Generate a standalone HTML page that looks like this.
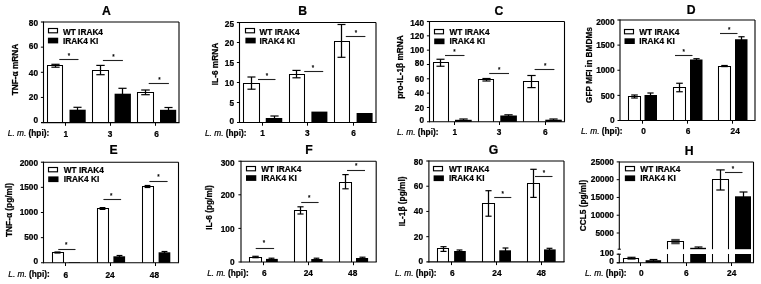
<!DOCTYPE html>
<html><head><meta charset="utf-8"><style>
html,body{margin:0;padding:0;background:#fff;}
svg{display:block;filter:grayscale(1);}
text{font-family:"Liberation Sans",sans-serif;fill:#000;stroke:#000;stroke-width:0.22px;}
</style></head><body>
<svg width="761" height="284" viewBox="0 0 761 284">
<rect width="761" height="284" fill="#fff"/>
<line x1="55.5" y1="64.3" x2="55.5" y2="67.2" stroke="#000" stroke-width="1.25"/>
<line x1="51.38" y1="64.3" x2="59.62" y2="64.3" stroke="#000" stroke-width="1.2"/>
<line x1="51.38" y1="67.2" x2="59.62" y2="67.2" stroke="#000" stroke-width="1.2"/>
<path d="M47.5 122.6 V65.5 H62.5 V122.6" fill="none" stroke="#000" stroke-width="1.05"/>
<line x1="77.5" y1="107.3" x2="77.5" y2="110.7" stroke="#000" stroke-width="1.25"/>
<line x1="73.45" y1="107.3" x2="81.55" y2="107.3" stroke="#000" stroke-width="1.2"/>
<rect x="69.5" y="109.7" width="16.2" height="12.9" fill="#000" stroke="none" stroke-width="1.0"/>
<line x1="100.5" y1="65.4" x2="100.5" y2="74.7" stroke="#000" stroke-width="1.25"/>
<line x1="96.3" y1="65.4" x2="104.7" y2="65.4" stroke="#000" stroke-width="1.2"/>
<line x1="96.3" y1="74.7" x2="104.7" y2="74.7" stroke="#000" stroke-width="1.2"/>
<path d="M92.5 122.6 V70.5 H108.5 V122.6" fill="none" stroke="#000" stroke-width="1.05"/>
<line x1="122.5" y1="88.3" x2="122.5" y2="94.7" stroke="#000" stroke-width="1.25"/>
<line x1="118.42" y1="88.3" x2="126.58" y2="88.3" stroke="#000" stroke-width="1.2"/>
<rect x="114.6" y="93.7" width="16.3" height="28.9" fill="#000" stroke="none" stroke-width="1.0"/>
<line x1="145.5" y1="90" x2="145.5" y2="94.7" stroke="#000" stroke-width="1.25"/>
<line x1="141.22" y1="90" x2="149.78" y2="90" stroke="#000" stroke-width="1.2"/>
<line x1="141.22" y1="94.7" x2="149.78" y2="94.7" stroke="#000" stroke-width="1.2"/>
<path d="M137.5 122.6 V92.5 H153.5 V122.6" fill="none" stroke="#000" stroke-width="1.05"/>
<line x1="168.5" y1="107.5" x2="168.5" y2="110.8" stroke="#000" stroke-width="1.25"/>
<line x1="164.45" y1="107.5" x2="172.55" y2="107.5" stroke="#000" stroke-width="1.2"/>
<rect x="160" y="109.8" width="16.2" height="12.8" fill="#000" stroke="none" stroke-width="1.0"/>
<line x1="43.5" y1="22" x2="179" y2="22" stroke="#000" stroke-width="1.1"/>
<line x1="179" y1="22" x2="179" y2="122.6" stroke="#000" stroke-width="1.1"/>
<line x1="43.5" y1="21.5" x2="43.5" y2="123.1" stroke="#000" stroke-width="1.1"/>
<line x1="41" y1="122.6" x2="179.5" y2="122.6" stroke="#000" stroke-width="1.1"/>
<line x1="40.9" y1="22" x2="43.5" y2="22" stroke="#000" stroke-width="1.1"/>
<text transform="translate(38.1,25.8) scale(1,1.06)" text-anchor="end" font-size="8.3" font-weight="bold" font-style="normal" >80</text>
<line x1="40.9" y1="47.15" x2="43.5" y2="47.15" stroke="#000" stroke-width="1.0"/>
<text transform="translate(38.1,49.1) scale(1,1.06)" text-anchor="end" font-size="8.3" font-weight="bold" font-style="normal" >60</text>
<line x1="40.9" y1="72.3" x2="43.5" y2="72.3" stroke="#000" stroke-width="1.0"/>
<text transform="translate(38.1,75.95) scale(1,1.06)" text-anchor="end" font-size="8.3" font-weight="bold" font-style="normal" >40</text>
<line x1="40.9" y1="97.45" x2="43.5" y2="97.45" stroke="#000" stroke-width="1.0"/>
<text transform="translate(38.1,99.85) scale(1,1.06)" text-anchor="end" font-size="8.3" font-weight="bold" font-style="normal" >20</text>
<text transform="translate(38.1,123.05) scale(1,1.06)" text-anchor="end" font-size="8.3" font-weight="bold" font-style="normal" >0</text>
<line x1="65.5" y1="122.6" x2="65.5" y2="125.8" stroke="#000" stroke-width="1.0"/>
<text transform="translate(65.8,136.5) scale(1,1.06)" text-anchor="middle" font-size="8.3" font-weight="bold" font-style="normal" >1</text>
<line x1="110.5" y1="122.6" x2="110.5" y2="125.8" stroke="#000" stroke-width="1.0"/>
<text transform="translate(110.1,136.5) scale(1,1.06)" text-anchor="middle" font-size="8.3" font-weight="bold" font-style="normal" >3</text>
<line x1="155.5" y1="122.6" x2="155.5" y2="125.8" stroke="#000" stroke-width="1.0"/>
<text transform="translate(156.6,136.5) scale(1,1.06)" text-anchor="middle" font-size="8.3" font-weight="bold" font-style="normal" >6</text>
<text transform="translate(7.8,135.7) scale(1,1.06)" font-size="8.3"><tspan font-style="italic">L. m.</tspan><tspan font-weight="bold"> (hpi):</tspan></text>
<line x1="59.3" y1="59.5" x2="78.5" y2="59.5" stroke="#222" stroke-width="1.1"/>
<text transform="translate(69,57.8) scale(1,1.06)" text-anchor="middle" font-size="6.2" font-weight="bold" font-style="normal" style="stroke-width:0.1px">*</text>
<line x1="102.9" y1="60.5" x2="122.9" y2="60.5" stroke="#222" stroke-width="1.1"/>
<text transform="translate(113.4,58.8) scale(1,1.06)" text-anchor="middle" font-size="6.2" font-weight="bold" font-style="normal" style="stroke-width:0.1px">*</text>
<line x1="148.7" y1="83.5" x2="168.9" y2="83.5" stroke="#222" stroke-width="1.1"/>
<text transform="translate(159.5,81.7) scale(1,1.06)" text-anchor="middle" font-size="6.2" font-weight="bold" font-style="normal" style="stroke-width:0.1px">*</text>
<rect x="48.5" y="28.5" width="9" height="4.3" fill="#fff" stroke="#000" stroke-width="1.15"/>
<rect x="47.9" y="37.7" width="10.3" height="5.7" fill="#000" stroke="none" stroke-width="1.0"/>
<text transform="translate(62.9,34.55) scale(1,1.06)" text-anchor="start" font-size="8.3" font-weight="bold" font-style="normal" >WT IRAK4</text>
<text transform="translate(62.9,43.65) scale(1,1.06)" text-anchor="start" font-size="8.3" font-weight="bold" font-style="normal" >IRAK4 KI</text>
<text transform="translate(106.5,14.8) scale(1,1.06)" text-anchor="middle" font-size="12.2" font-weight="bold" font-style="normal" >A</text>
<text transform="translate(18.3,69.5) rotate(-90) scale(1,1.06)" text-anchor="middle" font-size="8.3" font-weight="bold">TNF-&#945; mRNA</text>
<line x1="251.5" y1="77" x2="251.5" y2="89.2" stroke="#000" stroke-width="1.25"/>
<line x1="247.45" y1="77" x2="255.55" y2="77" stroke="#000" stroke-width="1.2"/>
<line x1="247.45" y1="89.2" x2="255.55" y2="89.2" stroke="#000" stroke-width="1.2"/>
<path d="M243.5 122.5 V83.5 H259.5 V122.5" fill="none" stroke="#000" stroke-width="1.05"/>
<line x1="274.5" y1="116" x2="274.5" y2="119" stroke="#000" stroke-width="1.25"/>
<line x1="270.38" y1="116" x2="278.62" y2="116" stroke="#000" stroke-width="1.2"/>
<rect x="265.75" y="118" width="16.5" height="4.5" fill="#000" stroke="none" stroke-width="1.0"/>
<line x1="296.5" y1="70.4" x2="296.5" y2="77.8" stroke="#000" stroke-width="1.25"/>
<line x1="292.43" y1="70.4" x2="300.57" y2="70.4" stroke="#000" stroke-width="1.2"/>
<line x1="292.43" y1="77.8" x2="300.57" y2="77.8" stroke="#000" stroke-width="1.2"/>
<path d="M289.5 122.5 V74.5 H304.5 V122.5" fill="none" stroke="#000" stroke-width="1.05"/>
<rect x="311.4" y="111.6" width="16" height="10.9" fill="#000" stroke="none" stroke-width="1.0"/>
<line x1="341.5" y1="24.5" x2="341.5" y2="57.3" stroke="#000" stroke-width="1.25"/>
<line x1="337.52" y1="24.5" x2="345.48" y2="24.5" stroke="#000" stroke-width="1.2"/>
<line x1="337.52" y1="57.3" x2="345.48" y2="57.3" stroke="#000" stroke-width="1.2"/>
<path d="M334.5 122.5 V41.5 H349.5 V122.5" fill="none" stroke="#000" stroke-width="1.05"/>
<rect x="356.6" y="113" width="16" height="9.5" fill="#000" stroke="none" stroke-width="1.0"/>
<line x1="239.5" y1="22.5" x2="376" y2="22.5" stroke="#000" stroke-width="1.1"/>
<line x1="376" y1="22.5" x2="376" y2="122.5" stroke="#000" stroke-width="1.1"/>
<line x1="239.5" y1="22" x2="239.5" y2="123" stroke="#000" stroke-width="1.1"/>
<line x1="237" y1="122.5" x2="376.5" y2="122.5" stroke="#000" stroke-width="1.1"/>
<line x1="236.9" y1="22.5" x2="239.5" y2="22.5" stroke="#000" stroke-width="1.1"/>
<text transform="translate(234.1,27.45) scale(1,1.06)" text-anchor="end" font-size="8.3" font-weight="bold" font-style="normal" >25</text>
<line x1="236.9" y1="42.5" x2="239.5" y2="42.5" stroke="#000" stroke-width="1.0"/>
<text transform="translate(234.1,46.05) scale(1,1.06)" text-anchor="end" font-size="8.3" font-weight="bold" font-style="normal" >20</text>
<line x1="236.9" y1="62.5" x2="239.5" y2="62.5" stroke="#000" stroke-width="1.0"/>
<text transform="translate(234.1,66.05) scale(1,1.06)" text-anchor="end" font-size="8.3" font-weight="bold" font-style="normal" >15</text>
<line x1="236.9" y1="82.5" x2="239.5" y2="82.5" stroke="#000" stroke-width="1.0"/>
<text transform="translate(234.1,85.9) scale(1,1.06)" text-anchor="end" font-size="8.3" font-weight="bold" font-style="normal" >10</text>
<line x1="236.9" y1="102.5" x2="239.5" y2="102.5" stroke="#000" stroke-width="1.0"/>
<text transform="translate(234.1,105.55) scale(1,1.06)" text-anchor="end" font-size="8.3" font-weight="bold" font-style="normal" >5</text>
<text transform="translate(234.1,123.95) scale(1,1.06)" text-anchor="end" font-size="8.3" font-weight="bold" font-style="normal" >0</text>
<line x1="262.5" y1="122.5" x2="262.5" y2="125.7" stroke="#000" stroke-width="1.0"/>
<text transform="translate(262.6,135.5) scale(1,1.06)" text-anchor="middle" font-size="8.3" font-weight="bold" font-style="normal" >1</text>
<line x1="307.5" y1="122.5" x2="307.5" y2="125.7" stroke="#000" stroke-width="1.0"/>
<text transform="translate(307.2,135.5) scale(1,1.06)" text-anchor="middle" font-size="8.3" font-weight="bold" font-style="normal" >3</text>
<line x1="353.5" y1="122.5" x2="353.5" y2="125.7" stroke="#000" stroke-width="1.0"/>
<text transform="translate(353.6,135.5) scale(1,1.06)" text-anchor="middle" font-size="8.3" font-weight="bold" font-style="normal" >6</text>
<text transform="translate(205,135.6) scale(1,1.06)" font-size="8.3"><tspan font-style="italic">L. m.</tspan><tspan font-weight="bold"> (hpi):</tspan></text>
<line x1="258" y1="79.5" x2="275.5" y2="79.5" stroke="#222" stroke-width="1.1"/>
<text transform="translate(267,78) scale(1,1.06)" text-anchor="middle" font-size="6.2" font-weight="bold" font-style="normal" style="stroke-width:0.1px">*</text>
<line x1="304.2" y1="71.5" x2="323.2" y2="71.5" stroke="#222" stroke-width="1.1"/>
<text transform="translate(312.9,70.4) scale(1,1.06)" text-anchor="middle" font-size="6.2" font-weight="bold" font-style="normal" style="stroke-width:0.1px">*</text>
<line x1="345.8" y1="36.5" x2="365.4" y2="36.5" stroke="#222" stroke-width="1.1"/>
<text transform="translate(356,34.5) scale(1,1.06)" text-anchor="middle" font-size="6.2" font-weight="bold" font-style="normal" style="stroke-width:0.1px">*</text>
<rect x="245.5" y="28.5" width="9" height="4.3" fill="#fff" stroke="#000" stroke-width="1.15"/>
<rect x="245.4" y="37.7" width="10.3" height="5.7" fill="#000" stroke="none" stroke-width="1.0"/>
<text transform="translate(259.5,34.55) scale(1,1.06)" text-anchor="start" font-size="8.3" font-weight="bold" font-style="normal" >WT IRAK4</text>
<text transform="translate(259.5,43.65) scale(1,1.06)" text-anchor="start" font-size="8.3" font-weight="bold" font-style="normal" >IRAK4 KI</text>
<text transform="translate(302.7,14.8) scale(1,1.06)" text-anchor="middle" font-size="12.2" font-weight="bold" font-style="normal" >B</text>
<text transform="translate(218.2,64) rotate(-90) scale(1,1.06)" text-anchor="middle" font-size="8.3" font-weight="bold">IL-6 mRNA</text>
<line x1="440.5" y1="59.25" x2="440.5" y2="66.25" stroke="#000" stroke-width="1.25"/>
<line x1="436.48" y1="59.25" x2="444.52" y2="59.25" stroke="#000" stroke-width="1.2"/>
<line x1="436.48" y1="66.25" x2="444.52" y2="66.25" stroke="#000" stroke-width="1.2"/>
<path d="M433.5 121.8 V62.5 H448.5 V121.8" fill="none" stroke="#000" stroke-width="1.05"/>
<line x1="463.5" y1="119" x2="463.5" y2="120.8" stroke="#000" stroke-width="1.25"/>
<line x1="459.32" y1="119" x2="467.68" y2="119" stroke="#000" stroke-width="1.2"/>
<rect x="455" y="119.8" width="16.7" height="2" fill="#000" stroke="none" stroke-width="1.0"/>
<line x1="486.5" y1="78.5" x2="486.5" y2="81" stroke="#000" stroke-width="1.25"/>
<line x1="482.4" y1="78.5" x2="490.6" y2="78.5" stroke="#000" stroke-width="1.2"/>
<line x1="482.4" y1="81" x2="490.6" y2="81" stroke="#000" stroke-width="1.2"/>
<path d="M478.5 121.8 V79.5 H493.5 V121.8" fill="none" stroke="#000" stroke-width="1.05"/>
<line x1="508.5" y1="114.8" x2="508.5" y2="116.5" stroke="#000" stroke-width="1.25"/>
<line x1="504.35" y1="114.8" x2="512.65" y2="114.8" stroke="#000" stroke-width="1.2"/>
<rect x="500.3" y="115.5" width="16.6" height="6.3" fill="#000" stroke="none" stroke-width="1.0"/>
<line x1="531.5" y1="75.5" x2="531.5" y2="87.6" stroke="#000" stroke-width="1.25"/>
<line x1="527.33" y1="75.5" x2="535.67" y2="75.5" stroke="#000" stroke-width="1.2"/>
<line x1="527.33" y1="87.6" x2="535.67" y2="87.6" stroke="#000" stroke-width="1.2"/>
<path d="M523.5 121.8 V81.5 H538.5 V121.8" fill="none" stroke="#000" stroke-width="1.05"/>
<line x1="553.5" y1="119" x2="553.5" y2="120.7" stroke="#000" stroke-width="1.25"/>
<line x1="549.38" y1="119" x2="557.62" y2="119" stroke="#000" stroke-width="1.2"/>
<rect x="545.3" y="119.7" width="16.5" height="2.1" fill="#000" stroke="none" stroke-width="1.0"/>
<line x1="429.5" y1="21.5" x2="564.5" y2="21.5" stroke="#000" stroke-width="1.1"/>
<line x1="564.5" y1="21.5" x2="564.5" y2="121.8" stroke="#000" stroke-width="1.1"/>
<line x1="429.5" y1="21" x2="429.5" y2="122.3" stroke="#000" stroke-width="1.1"/>
<line x1="427" y1="121.8" x2="565" y2="121.8" stroke="#000" stroke-width="1.1"/>
<line x1="426.9" y1="21.5" x2="429.5" y2="21.5" stroke="#000" stroke-width="1.1"/>
<text transform="translate(424.1,25.75) scale(1,1.06)" text-anchor="end" font-size="8.3" font-weight="bold" font-style="normal" >140</text>
<line x1="426.9" y1="35.83" x2="429.5" y2="35.83" stroke="#000" stroke-width="1.0"/>
<text transform="translate(424.1,39) scale(1,1.06)" text-anchor="end" font-size="8.3" font-weight="bold" font-style="normal" >120</text>
<line x1="426.9" y1="50.16" x2="429.5" y2="50.16" stroke="#000" stroke-width="1.0"/>
<text transform="translate(424.1,53.3) scale(1,1.06)" text-anchor="end" font-size="8.3" font-weight="bold" font-style="normal" >100</text>
<line x1="426.9" y1="64.49" x2="429.5" y2="64.49" stroke="#000" stroke-width="1.0"/>
<text transform="translate(424.1,66.35) scale(1,1.06)" text-anchor="end" font-size="8.3" font-weight="bold" font-style="normal" >80</text>
<line x1="426.9" y1="78.81" x2="429.5" y2="78.81" stroke="#000" stroke-width="1.0"/>
<text transform="translate(424.1,81.8) scale(1,1.06)" text-anchor="end" font-size="8.3" font-weight="bold" font-style="normal" >60</text>
<line x1="426.9" y1="93.14" x2="429.5" y2="93.14" stroke="#000" stroke-width="1.0"/>
<text transform="translate(424.1,96.25) scale(1,1.06)" text-anchor="end" font-size="8.3" font-weight="bold" font-style="normal" >40</text>
<line x1="426.9" y1="107.47" x2="429.5" y2="107.47" stroke="#000" stroke-width="1.0"/>
<text transform="translate(424.1,111.05) scale(1,1.06)" text-anchor="end" font-size="8.3" font-weight="bold" font-style="normal" >20</text>
<text transform="translate(424.1,123.15) scale(1,1.06)" text-anchor="end" font-size="8.3" font-weight="bold" font-style="normal" >0</text>
<line x1="454.5" y1="121.8" x2="454.5" y2="125" stroke="#000" stroke-width="1.0"/>
<text transform="translate(454.8,135.4) scale(1,1.06)" text-anchor="middle" font-size="8.3" font-weight="bold" font-style="normal" >1</text>
<line x1="499.5" y1="121.8" x2="499.5" y2="125" stroke="#000" stroke-width="1.0"/>
<text transform="translate(499.1,135.4) scale(1,1.06)" text-anchor="middle" font-size="8.3" font-weight="bold" font-style="normal" >3</text>
<line x1="545.5" y1="121.8" x2="545.5" y2="125" stroke="#000" stroke-width="1.0"/>
<text transform="translate(545.3,135.4) scale(1,1.06)" text-anchor="middle" font-size="8.3" font-weight="bold" font-style="normal" >6</text>
<text transform="translate(397,135.1) scale(1,1.06)" font-size="8.3"><tspan font-style="italic">L. m.</tspan><tspan font-weight="bold"> (hpi):</tspan></text>
<line x1="445" y1="55.5" x2="464.5" y2="55.5" stroke="#222" stroke-width="1.1"/>
<text transform="translate(454.5,54.25) scale(1,1.06)" text-anchor="middle" font-size="6.2" font-weight="bold" font-style="normal" style="stroke-width:0.1px">*</text>
<line x1="489.2" y1="73.5" x2="509" y2="73.5" stroke="#222" stroke-width="1.1"/>
<text transform="translate(499.1,71.6) scale(1,1.06)" text-anchor="middle" font-size="6.2" font-weight="bold" font-style="normal" style="stroke-width:0.1px">*</text>
<line x1="534.6" y1="69.5" x2="554.4" y2="69.5" stroke="#222" stroke-width="1.1"/>
<text transform="translate(545.3,67.9) scale(1,1.06)" text-anchor="middle" font-size="6.2" font-weight="bold" font-style="normal" style="stroke-width:0.1px">*</text>
<rect x="434.5" y="29.5" width="9" height="4.3" fill="#fff" stroke="#000" stroke-width="1.15"/>
<rect x="434.2" y="38.5" width="10.3" height="5.7" fill="#000" stroke="none" stroke-width="1.0"/>
<text transform="translate(449.5,35.35) scale(1,1.06)" text-anchor="start" font-size="8.3" font-weight="bold" font-style="normal" >WT IRAK4</text>
<text transform="translate(449.5,44.45) scale(1,1.06)" text-anchor="start" font-size="8.3" font-weight="bold" font-style="normal" >IRAK4 KI</text>
<text transform="translate(499,14.8) scale(1,1.06)" text-anchor="middle" font-size="12.2" font-weight="bold" font-style="normal" >C</text>
<text transform="translate(403,67) rotate(-90) scale(1,1.06)" text-anchor="middle" font-size="8.3" font-weight="bold">pro-IL-1&#946; mRNA</text>
<line x1="634.5" y1="95" x2="634.5" y2="98" stroke="#000" stroke-width="1.25"/>
<line x1="631.2" y1="95" x2="637.8" y2="95" stroke="#000" stroke-width="1.2"/>
<line x1="631.2" y1="98" x2="637.8" y2="98" stroke="#000" stroke-width="1.2"/>
<path d="M628.5 120.5 V96.5 H640.5 V120.5" fill="none" stroke="#000" stroke-width="1.05"/>
<line x1="650.5" y1="93" x2="650.5" y2="96" stroke="#000" stroke-width="1.25"/>
<line x1="647.38" y1="93" x2="653.62" y2="93" stroke="#000" stroke-width="1.2"/>
<rect x="644.5" y="95" width="12.5" height="25.5" fill="#000" stroke="none" stroke-width="1.0"/>
<line x1="679.5" y1="83.25" x2="679.5" y2="91.75" stroke="#000" stroke-width="1.25"/>
<line x1="676.2" y1="83.25" x2="682.8" y2="83.25" stroke="#000" stroke-width="1.2"/>
<line x1="676.2" y1="91.75" x2="682.8" y2="91.75" stroke="#000" stroke-width="1.2"/>
<path d="M673.5 120.5 V87.5 H685.5 V120.5" fill="none" stroke="#000" stroke-width="1.05"/>
<line x1="696.5" y1="58.7" x2="696.5" y2="60.5" stroke="#000" stroke-width="1.25"/>
<line x1="693.38" y1="58.7" x2="699.62" y2="58.7" stroke="#000" stroke-width="1.2"/>
<rect x="690" y="59.5" width="12.5" height="61" fill="#000" stroke="none" stroke-width="1.0"/>
<line x1="724.5" y1="65.5" x2="724.5" y2="66.6" stroke="#000" stroke-width="1.25"/>
<line x1="721.25" y1="65.5" x2="727.75" y2="65.5" stroke="#000" stroke-width="1.2"/>
<line x1="721.25" y1="66.6" x2="727.75" y2="66.6" stroke="#000" stroke-width="1.2"/>
<path d="M718.5 120.5 V66.5 H730.5 V120.5" fill="none" stroke="#000" stroke-width="1.05"/>
<line x1="741.5" y1="36.75" x2="741.5" y2="40.25" stroke="#000" stroke-width="1.25"/>
<line x1="738.38" y1="36.75" x2="744.62" y2="36.75" stroke="#000" stroke-width="1.2"/>
<rect x="735" y="39.25" width="12.5" height="81.25" fill="#000" stroke="none" stroke-width="1.0"/>
<line x1="620" y1="20" x2="755" y2="20" stroke="#000" stroke-width="1.1"/>
<line x1="755" y1="20" x2="755" y2="120.5" stroke="#000" stroke-width="1.1"/>
<line x1="620" y1="19.5" x2="620" y2="121" stroke="#000" stroke-width="1.1"/>
<line x1="617.5" y1="120.5" x2="755.5" y2="120.5" stroke="#000" stroke-width="1.1"/>
<line x1="617.4" y1="20" x2="620" y2="20" stroke="#000" stroke-width="1.1"/>
<text transform="translate(614.6,25.05) scale(1,1.06)" text-anchor="end" font-size="8.3" font-weight="bold" font-style="normal" >2000</text>
<line x1="617.4" y1="45.12" x2="620" y2="45.12" stroke="#000" stroke-width="1.0"/>
<text transform="translate(614.6,47.75) scale(1,1.06)" text-anchor="end" font-size="8.3" font-weight="bold" font-style="normal" >1500</text>
<line x1="617.4" y1="70.25" x2="620" y2="70.25" stroke="#000" stroke-width="1.0"/>
<text transform="translate(614.6,73.2) scale(1,1.06)" text-anchor="end" font-size="8.3" font-weight="bold" font-style="normal" >1000</text>
<line x1="617.4" y1="95.38" x2="620" y2="95.38" stroke="#000" stroke-width="1.0"/>
<text transform="translate(614.6,98.75) scale(1,1.06)" text-anchor="end" font-size="8.3" font-weight="bold" font-style="normal" >500</text>
<text transform="translate(614.6,123.05) scale(1,1.06)" text-anchor="end" font-size="8.3" font-weight="bold" font-style="normal" >0</text>
<line x1="642.5" y1="120.5" x2="642.5" y2="123.7" stroke="#000" stroke-width="1.0"/>
<text transform="translate(643.5,134.3) scale(1,1.06)" text-anchor="middle" font-size="8.3" font-weight="bold" font-style="normal" >0</text>
<line x1="687.5" y1="120.5" x2="687.5" y2="123.7" stroke="#000" stroke-width="1.0"/>
<text transform="translate(688,134.3) scale(1,1.06)" text-anchor="middle" font-size="8.3" font-weight="bold" font-style="normal" >6</text>
<line x1="732.5" y1="120.5" x2="732.5" y2="123.7" stroke="#000" stroke-width="1.0"/>
<text transform="translate(735.2,134.3) scale(1,1.06)" text-anchor="middle" font-size="8.3" font-weight="bold" font-style="normal" >24</text>
<text transform="translate(581,133.8) scale(1,1.06)" font-size="8.3"><tspan font-style="italic">L. m.</tspan><tspan font-weight="bold"> (hpi):</tspan></text>
<line x1="675" y1="55.5" x2="692.5" y2="55.5" stroke="#222" stroke-width="1.1"/>
<text transform="translate(683.7,54.3) scale(1,1.06)" text-anchor="middle" font-size="6.2" font-weight="bold" font-style="normal" style="stroke-width:0.1px">*</text>
<line x1="720" y1="33.5" x2="737.5" y2="33.5" stroke="#222" stroke-width="1.1"/>
<text transform="translate(729.25,32.25) scale(1,1.06)" text-anchor="middle" font-size="6.2" font-weight="bold" font-style="normal" style="stroke-width:0.1px">*</text>
<rect x="624.5" y="29.5" width="9" height="4.3" fill="#fff" stroke="#000" stroke-width="1.15"/>
<rect x="624.5" y="38.3" width="10.3" height="5.7" fill="#000" stroke="none" stroke-width="1.0"/>
<text transform="translate(639.25,35.15) scale(1,1.06)" text-anchor="start" font-size="8.3" font-weight="bold" font-style="normal" >WT IRAK4</text>
<text transform="translate(639.25,44.25) scale(1,1.06)" text-anchor="start" font-size="8.3" font-weight="bold" font-style="normal" >IRAK4 KI</text>
<text transform="translate(691.2,14.2) scale(1,1.06)" text-anchor="middle" font-size="12.2" font-weight="bold" font-style="normal" >D</text>
<text transform="translate(591.5,65) rotate(-90) scale(1,1.06)" text-anchor="middle" font-size="8.3" font-weight="bold">GFP MFI in BMDMs</text>
<line x1="57.5" y1="252" x2="57.5" y2="253" stroke="#000" stroke-width="1.25"/>
<line x1="54.42" y1="252" x2="60.58" y2="252" stroke="#000" stroke-width="1.2"/>
<line x1="54.42" y1="253" x2="60.58" y2="253" stroke="#000" stroke-width="1.2"/>
<path d="M52.5 262.8 V252.5 H63.5 V262.8" fill="none" stroke="#000" stroke-width="1.05"/>
<rect x="68.75" y="262.2" width="11.25" height="0.6" fill="#000" stroke="none" stroke-width="1.0"/>
<line x1="102.5" y1="207.6" x2="102.5" y2="209.4" stroke="#000" stroke-width="1.25"/>
<line x1="99.6" y1="207.6" x2="105.4" y2="207.6" stroke="#000" stroke-width="1.2"/>
<line x1="99.6" y1="209.4" x2="105.4" y2="209.4" stroke="#000" stroke-width="1.2"/>
<path d="M97.5 262.8 V208.5 H108.5 V262.8" fill="none" stroke="#000" stroke-width="1.05"/>
<line x1="119.5" y1="255.5" x2="119.5" y2="257.3" stroke="#000" stroke-width="1.25"/>
<line x1="116.58" y1="255.5" x2="122.42" y2="255.5" stroke="#000" stroke-width="1.2"/>
<rect x="113.4" y="256.3" width="11.7" height="6.5" fill="#000" stroke="none" stroke-width="1.0"/>
<line x1="147.5" y1="185.5" x2="147.5" y2="187.5" stroke="#000" stroke-width="1.25"/>
<line x1="144.62" y1="185.5" x2="150.38" y2="185.5" stroke="#000" stroke-width="1.2"/>
<line x1="144.62" y1="187.5" x2="150.38" y2="187.5" stroke="#000" stroke-width="1.2"/>
<path d="M142.5 262.8 V186.5 H153.5 V262.8" fill="none" stroke="#000" stroke-width="1.05"/>
<line x1="164.5" y1="251.5" x2="164.5" y2="253.3" stroke="#000" stroke-width="1.25"/>
<line x1="161.57" y1="251.5" x2="167.43" y2="251.5" stroke="#000" stroke-width="1.2"/>
<rect x="158.6" y="252.3" width="11.7" height="10.5" fill="#000" stroke="none" stroke-width="1.0"/>
<line x1="43.5" y1="162.2" x2="178.5" y2="162.2" stroke="#000" stroke-width="1.1"/>
<line x1="178.5" y1="162.2" x2="178.5" y2="262.8" stroke="#000" stroke-width="1.1"/>
<line x1="43.5" y1="161.7" x2="43.5" y2="263.3" stroke="#000" stroke-width="1.1"/>
<line x1="41" y1="262.8" x2="179" y2="262.8" stroke="#000" stroke-width="1.1"/>
<line x1="40.9" y1="162.2" x2="43.5" y2="162.2" stroke="#000" stroke-width="1.1"/>
<text transform="translate(38.1,166.45) scale(1,1.06)" text-anchor="end" font-size="8.3" font-weight="bold" font-style="normal" >2000</text>
<line x1="40.9" y1="187.35" x2="43.5" y2="187.35" stroke="#000" stroke-width="1.0"/>
<text transform="translate(38.1,189.95) scale(1,1.06)" text-anchor="end" font-size="8.3" font-weight="bold" font-style="normal" >1500</text>
<line x1="40.9" y1="212.5" x2="43.5" y2="212.5" stroke="#000" stroke-width="1.0"/>
<text transform="translate(38.1,215.15) scale(1,1.06)" text-anchor="end" font-size="8.3" font-weight="bold" font-style="normal" >1000</text>
<line x1="40.9" y1="237.65" x2="43.5" y2="237.65" stroke="#000" stroke-width="1.0"/>
<text transform="translate(38.1,240.15) scale(1,1.06)" text-anchor="end" font-size="8.3" font-weight="bold" font-style="normal" >500</text>
<text transform="translate(38.1,264.15) scale(1,1.06)" text-anchor="end" font-size="8.3" font-weight="bold" font-style="normal" >0</text>
<line x1="65.5" y1="262.8" x2="65.5" y2="266" stroke="#000" stroke-width="1.0"/>
<text transform="translate(65.9,277.6) scale(1,1.06)" text-anchor="middle" font-size="8.3" font-weight="bold" font-style="normal" >6</text>
<line x1="110.5" y1="262.8" x2="110.5" y2="266" stroke="#000" stroke-width="1.0"/>
<text transform="translate(110,277.6) scale(1,1.06)" text-anchor="middle" font-size="8.3" font-weight="bold" font-style="normal" >24</text>
<line x1="155.5" y1="262.8" x2="155.5" y2="266" stroke="#000" stroke-width="1.0"/>
<text transform="translate(154.4,277.6) scale(1,1.06)" text-anchor="middle" font-size="8.3" font-weight="bold" font-style="normal" >48</text>
<text transform="translate(8.3,277.3) scale(1,1.06)" font-size="8.3"><tspan font-style="italic">L. m.</tspan><tspan font-weight="bold"> (hpi):</tspan></text>
<line x1="58.25" y1="249.5" x2="75.5" y2="249.5" stroke="#222" stroke-width="1.1"/>
<text transform="translate(66.25,246.75) scale(1,1.06)" text-anchor="middle" font-size="6.2" font-weight="bold" font-style="normal" style="stroke-width:0.1px">*</text>
<line x1="103.4" y1="199.5" x2="121.1" y2="199.5" stroke="#222" stroke-width="1.1"/>
<text transform="translate(111.2,198.2) scale(1,1.06)" text-anchor="middle" font-size="6.2" font-weight="bold" font-style="normal" style="stroke-width:0.1px">*</text>
<line x1="149.4" y1="181.5" x2="167.6" y2="181.5" stroke="#222" stroke-width="1.1"/>
<text transform="translate(158.5,179.4) scale(1,1.06)" text-anchor="middle" font-size="6.2" font-weight="bold" font-style="normal" style="stroke-width:0.1px">*</text>
<rect x="48.5" y="167.5" width="9" height="4.3" fill="#fff" stroke="#000" stroke-width="1.15"/>
<rect x="48.2" y="176.4" width="10.3" height="5.7" fill="#000" stroke="none" stroke-width="1.0"/>
<text transform="translate(63.75,173.45) scale(1,1.06)" text-anchor="start" font-size="8.3" font-weight="bold" font-style="normal" >WT IRAK4</text>
<text transform="translate(63.75,182.35) scale(1,1.06)" text-anchor="start" font-size="8.3" font-weight="bold" font-style="normal" >IRAK4 KI</text>
<text transform="translate(113.5,153.7) scale(1,1.06)" text-anchor="middle" font-size="12.2" font-weight="bold" font-style="normal" >E</text>
<text transform="translate(12,210) rotate(-90) scale(1,1.06)" text-anchor="middle" font-size="8.3" font-weight="bold">TNF-&#945; (pg/ml)</text>
<line x1="255.5" y1="256.3" x2="255.5" y2="257.7" stroke="#000" stroke-width="1.25"/>
<line x1="252.28" y1="256.3" x2="258.73" y2="256.3" stroke="#000" stroke-width="1.2"/>
<line x1="252.28" y1="257.7" x2="258.73" y2="257.7" stroke="#000" stroke-width="1.2"/>
<path d="M249.5 262 V257.5 H261.5 V262" fill="none" stroke="#000" stroke-width="1.05"/>
<line x1="271.5" y1="258.2" x2="271.5" y2="259.9" stroke="#000" stroke-width="1.25"/>
<line x1="268.55" y1="258.2" x2="274.45" y2="258.2" stroke="#000" stroke-width="1.2"/>
<rect x="266" y="258.9" width="11.8" height="3.1" fill="#000" stroke="none" stroke-width="1.0"/>
<line x1="300.5" y1="206.8" x2="300.5" y2="214" stroke="#000" stroke-width="1.25"/>
<line x1="297.43" y1="206.8" x2="303.57" y2="206.8" stroke="#000" stroke-width="1.2"/>
<line x1="297.43" y1="214" x2="303.57" y2="214" stroke="#000" stroke-width="1.2"/>
<path d="M294.5 262 V210.5 H306.5 V262" fill="none" stroke="#000" stroke-width="1.05"/>
<line x1="316.5" y1="258.2" x2="316.5" y2="260" stroke="#000" stroke-width="1.25"/>
<line x1="313.66" y1="258.2" x2="319.34" y2="258.2" stroke="#000" stroke-width="1.2"/>
<rect x="311.25" y="259" width="11.35" height="3" fill="#000" stroke="none" stroke-width="1.0"/>
<line x1="345.5" y1="174.6" x2="345.5" y2="188.8" stroke="#000" stroke-width="1.25"/>
<line x1="342.32" y1="174.6" x2="348.68" y2="174.6" stroke="#000" stroke-width="1.2"/>
<line x1="342.32" y1="188.8" x2="348.68" y2="188.8" stroke="#000" stroke-width="1.2"/>
<path d="M339.5 262 V182.5 H351.5 V262" fill="none" stroke="#000" stroke-width="1.05"/>
<line x1="362.5" y1="257.2" x2="362.5" y2="259" stroke="#000" stroke-width="1.25"/>
<line x1="359.48" y1="257.2" x2="365.52" y2="257.2" stroke="#000" stroke-width="1.2"/>
<rect x="356" y="258" width="12.1" height="4" fill="#000" stroke="none" stroke-width="1.0"/>
<line x1="241" y1="161.2" x2="376.2" y2="161.2" stroke="#000" stroke-width="1.1"/>
<line x1="376.2" y1="161.2" x2="376.2" y2="262" stroke="#000" stroke-width="1.1"/>
<line x1="241" y1="160.7" x2="241" y2="262.5" stroke="#000" stroke-width="1.1"/>
<line x1="238.5" y1="262" x2="376.7" y2="262" stroke="#000" stroke-width="1.1"/>
<line x1="238.4" y1="161.2" x2="241" y2="161.2" stroke="#000" stroke-width="1.1"/>
<text transform="translate(234.6,165.75) scale(1,1.06)" text-anchor="end" font-size="8.3" font-weight="bold" font-style="normal" >300</text>
<line x1="238.4" y1="194.8" x2="241" y2="194.8" stroke="#000" stroke-width="1.0"/>
<text transform="translate(234.6,197.75) scale(1,1.06)" text-anchor="end" font-size="8.3" font-weight="bold" font-style="normal" >200</text>
<line x1="238.4" y1="228.4" x2="241" y2="228.4" stroke="#000" stroke-width="1.0"/>
<text transform="translate(234.6,232) scale(1,1.06)" text-anchor="end" font-size="8.3" font-weight="bold" font-style="normal" >100</text>
<text transform="translate(234.6,264.75) scale(1,1.06)" text-anchor="end" font-size="8.3" font-weight="bold" font-style="normal" >0</text>
<line x1="263.5" y1="262" x2="263.5" y2="265.2" stroke="#000" stroke-width="1.0"/>
<text transform="translate(264.2,276.3) scale(1,1.06)" text-anchor="middle" font-size="8.3" font-weight="bold" font-style="normal" >6</text>
<line x1="308.5" y1="262" x2="308.5" y2="265.2" stroke="#000" stroke-width="1.0"/>
<text transform="translate(308.3,276.3) scale(1,1.06)" text-anchor="middle" font-size="8.3" font-weight="bold" font-style="normal" >24</text>
<line x1="353.5" y1="262" x2="353.5" y2="265.2" stroke="#000" stroke-width="1.0"/>
<text transform="translate(352.7,276.3) scale(1,1.06)" text-anchor="middle" font-size="8.3" font-weight="bold" font-style="normal" >48</text>
<text transform="translate(207.2,276.4) scale(1,1.06)" font-size="8.3"><tspan font-style="italic">L. m.</tspan><tspan font-weight="bold"> (hpi):</tspan></text>
<line x1="255.7" y1="248.5" x2="274.1" y2="248.5" stroke="#222" stroke-width="1.1"/>
<text transform="translate(264,245.2) scale(1,1.06)" text-anchor="middle" font-size="6.2" font-weight="bold" font-style="normal" style="stroke-width:0.1px">*</text>
<line x1="301.2" y1="202.5" x2="318.6" y2="202.5" stroke="#222" stroke-width="1.1"/>
<text transform="translate(309.25,199.7) scale(1,1.06)" text-anchor="middle" font-size="6.2" font-weight="bold" font-style="normal" style="stroke-width:0.1px">*</text>
<line x1="347" y1="170.5" x2="365" y2="170.5" stroke="#222" stroke-width="1.1"/>
<text transform="translate(356.3,168) scale(1,1.06)" text-anchor="middle" font-size="6.2" font-weight="bold" font-style="normal" style="stroke-width:0.1px">*</text>
<rect x="246.5" y="166.5" width="9" height="4.3" fill="#fff" stroke="#000" stroke-width="1.15"/>
<rect x="246" y="175.2" width="10.3" height="5.7" fill="#000" stroke="none" stroke-width="1.0"/>
<text transform="translate(261.25,172.15) scale(1,1.06)" text-anchor="start" font-size="8.3" font-weight="bold" font-style="normal" >WT IRAK4</text>
<text transform="translate(261.25,181.15) scale(1,1.06)" text-anchor="start" font-size="8.3" font-weight="bold" font-style="normal" >IRAK4 KI</text>
<text transform="translate(308.9,153.7) scale(1,1.06)" text-anchor="middle" font-size="12.2" font-weight="bold" font-style="normal" >F</text>
<text transform="translate(212,207.5) rotate(-90) scale(1,1.06)" text-anchor="middle" font-size="8.3" font-weight="bold">IL-6 (pg/ml)</text>
<line x1="443.5" y1="246.7" x2="443.5" y2="251.4" stroke="#000" stroke-width="1.25"/>
<line x1="440.45" y1="246.7" x2="446.55" y2="246.7" stroke="#000" stroke-width="1.2"/>
<line x1="440.45" y1="251.4" x2="446.55" y2="251.4" stroke="#000" stroke-width="1.2"/>
<path d="M437.5 261.9 V248.5 H448.5 V261.9" fill="none" stroke="#000" stroke-width="1.05"/>
<line x1="459.5" y1="250" x2="459.5" y2="252" stroke="#000" stroke-width="1.25"/>
<line x1="456.57" y1="250" x2="462.43" y2="250" stroke="#000" stroke-width="1.2"/>
<rect x="454.1" y="251" width="11.7" height="10.9" fill="#000" stroke="none" stroke-width="1.0"/>
<line x1="488.5" y1="190.7" x2="488.5" y2="216.2" stroke="#000" stroke-width="1.25"/>
<line x1="485.43" y1="190.7" x2="491.57" y2="190.7" stroke="#000" stroke-width="1.2"/>
<line x1="485.43" y1="216.2" x2="491.57" y2="216.2" stroke="#000" stroke-width="1.2"/>
<path d="M482.5 261.9 V203.5 H494.5 V261.9" fill="none" stroke="#000" stroke-width="1.05"/>
<line x1="505.5" y1="248" x2="505.5" y2="251.3" stroke="#000" stroke-width="1.25"/>
<line x1="502.56" y1="248" x2="508.44" y2="248" stroke="#000" stroke-width="1.2"/>
<rect x="499.25" y="250.3" width="11.75" height="11.6" fill="#000" stroke="none" stroke-width="1.0"/>
<line x1="533.5" y1="169.3" x2="533.5" y2="197.4" stroke="#000" stroke-width="1.25"/>
<line x1="530.27" y1="169.3" x2="536.73" y2="169.3" stroke="#000" stroke-width="1.2"/>
<line x1="530.27" y1="197.4" x2="536.73" y2="197.4" stroke="#000" stroke-width="1.2"/>
<path d="M527.5 261.9 V183.5 H539.5 V261.9" fill="none" stroke="#000" stroke-width="1.05"/>
<line x1="549.5" y1="248.3" x2="549.5" y2="250.4" stroke="#000" stroke-width="1.25"/>
<line x1="546.58" y1="248.3" x2="552.42" y2="248.3" stroke="#000" stroke-width="1.2"/>
<rect x="544" y="249.4" width="11.7" height="12.5" fill="#000" stroke="none" stroke-width="1.0"/>
<line x1="428.9" y1="161" x2="564" y2="161" stroke="#000" stroke-width="1.1"/>
<line x1="564" y1="161" x2="564" y2="261.9" stroke="#000" stroke-width="1.1"/>
<line x1="428.9" y1="160.5" x2="428.9" y2="262.4" stroke="#000" stroke-width="1.1"/>
<line x1="426.4" y1="261.9" x2="564.5" y2="261.9" stroke="#000" stroke-width="1.1"/>
<line x1="426.3" y1="161" x2="428.9" y2="161" stroke="#000" stroke-width="1.1"/>
<text transform="translate(423,165.15) scale(1,1.06)" text-anchor="end" font-size="8.3" font-weight="bold" font-style="normal" >80</text>
<line x1="426.3" y1="186.22" x2="428.9" y2="186.22" stroke="#000" stroke-width="1.0"/>
<text transform="translate(423,189.15) scale(1,1.06)" text-anchor="end" font-size="8.3" font-weight="bold" font-style="normal" >60</text>
<line x1="426.3" y1="211.45" x2="428.9" y2="211.45" stroke="#000" stroke-width="1.0"/>
<text transform="translate(423,214.45) scale(1,1.06)" text-anchor="end" font-size="8.3" font-weight="bold" font-style="normal" >40</text>
<line x1="426.3" y1="236.67" x2="428.9" y2="236.67" stroke="#000" stroke-width="1.0"/>
<text transform="translate(423,239.95) scale(1,1.06)" text-anchor="end" font-size="8.3" font-weight="bold" font-style="normal" >20</text>
<text transform="translate(423,264.45) scale(1,1.06)" text-anchor="end" font-size="8.3" font-weight="bold" font-style="normal" >0</text>
<line x1="451.5" y1="261.9" x2="451.5" y2="265.1" stroke="#000" stroke-width="1.0"/>
<text transform="translate(452.4,276.2) scale(1,1.06)" text-anchor="middle" font-size="8.3" font-weight="bold" font-style="normal" >6</text>
<line x1="496.5" y1="261.9" x2="496.5" y2="265.1" stroke="#000" stroke-width="1.0"/>
<text transform="translate(496.9,276.2) scale(1,1.06)" text-anchor="middle" font-size="8.3" font-weight="bold" font-style="normal" >24</text>
<line x1="541.5" y1="261.9" x2="541.5" y2="265.1" stroke="#000" stroke-width="1.0"/>
<text transform="translate(541.3,276.2) scale(1,1.06)" text-anchor="middle" font-size="8.3" font-weight="bold" font-style="normal" >48</text>
<text transform="translate(395,276.1) scale(1,1.06)" font-size="8.3"><tspan font-style="italic">L. m.</tspan><tspan font-weight="bold"> (hpi):</tspan></text>
<line x1="494.2" y1="197.5" x2="511.3" y2="197.5" stroke="#222" stroke-width="1.1"/>
<text transform="translate(502.6,196.3) scale(1,1.06)" text-anchor="middle" font-size="6.2" font-weight="bold" font-style="normal" style="stroke-width:0.1px">*</text>
<line x1="535" y1="176.5" x2="552.5" y2="176.5" stroke="#222" stroke-width="1.1"/>
<text transform="translate(543.9,174.5) scale(1,1.06)" text-anchor="middle" font-size="6.2" font-weight="bold" font-style="normal" style="stroke-width:0.1px">*</text>
<rect x="433.5" y="166.5" width="9" height="4.3" fill="#fff" stroke="#000" stroke-width="1.15"/>
<rect x="433.6" y="175.4" width="10.3" height="5.7" fill="#000" stroke="none" stroke-width="1.0"/>
<text transform="translate(449,172.35) scale(1,1.06)" text-anchor="start" font-size="8.3" font-weight="bold" font-style="normal" >WT IRAK4</text>
<text transform="translate(449,181.35) scale(1,1.06)" text-anchor="start" font-size="8.3" font-weight="bold" font-style="normal" >IRAK4 KI</text>
<text transform="translate(493.6,154) scale(1,1.06)" text-anchor="middle" font-size="12.2" font-weight="bold" font-style="normal" >G</text>
<text transform="translate(404.8,201.4) rotate(-90) scale(1,1.06)" text-anchor="middle" font-size="8.3" font-weight="bold">IL-1&#946; (pg/ml)</text>
<line x1="631.5" y1="257.3" x2="631.5" y2="259" stroke="#000" stroke-width="1.25"/>
<line x1="627.45" y1="257.3" x2="635.55" y2="257.3" stroke="#000" stroke-width="1.2"/>
<line x1="627.45" y1="259" x2="635.55" y2="259" stroke="#000" stroke-width="1.2"/>
<path d="M623.5 262.8 V258.5 H638.5 V262.8" fill="none" stroke="#000" stroke-width="1.05"/>
<line x1="653.5" y1="259.5" x2="653.5" y2="261.2" stroke="#000" stroke-width="1.25"/>
<line x1="649.62" y1="259.5" x2="657.38" y2="259.5" stroke="#000" stroke-width="1.2"/>
<rect x="645.6" y="260.2" width="15.5" height="2.6" fill="#000" stroke="none" stroke-width="1.0"/>
<rect x="671.3" y="238.9" width="8.4" height="5.4" fill="#444" stroke="none" stroke-width="1.0"/>
<path d="M667.5 262.8 V241.5 H683.5 V262.8" fill="none" stroke="#000" stroke-width="1.05"/>
<line x1="698.5" y1="247" x2="698.5" y2="248.8" stroke="#000" stroke-width="1.25"/>
<line x1="694.55" y1="247" x2="702.45" y2="247" stroke="#000" stroke-width="1.2"/>
<rect x="690.2" y="247.8" width="15.8" height="15" fill="#000" stroke="none" stroke-width="1.0"/>
<line x1="720.5" y1="169.9" x2="720.5" y2="190" stroke="#000" stroke-width="1.25"/>
<line x1="716.3" y1="169.9" x2="724.7" y2="169.9" stroke="#000" stroke-width="1.2"/>
<line x1="716.3" y1="190" x2="724.7" y2="190" stroke="#000" stroke-width="1.2"/>
<path d="M712.5 262.8 V179.5 H728.5 V262.8" fill="none" stroke="#000" stroke-width="1.05"/>
<line x1="743.5" y1="192" x2="743.5" y2="197.3" stroke="#000" stroke-width="1.25"/>
<line x1="739.5" y1="192" x2="747.5" y2="192" stroke="#000" stroke-width="1.2"/>
<rect x="735" y="196.3" width="16" height="66.5" fill="#000" stroke="none" stroke-width="1.0"/>
<rect x="620" y="249.2" width="132.8" height="4.8" fill="#fff" stroke="none" stroke-width="1.0"/>
<line x1="619.3" y1="162" x2="753.5" y2="162" stroke="#000" stroke-width="1.1"/>
<line x1="753.5" y1="162" x2="753.5" y2="262.8" stroke="#000" stroke-width="1.1"/>
<line x1="619.3" y1="161.5" x2="619.3" y2="249.2" stroke="#000" stroke-width="1.1"/>
<line x1="619.3" y1="254.2" x2="619.3" y2="263.3" stroke="#000" stroke-width="1.1"/>
<line x1="617.7" y1="249.2" x2="620.9" y2="249.2" stroke="#000" stroke-width="1.0"/>
<line x1="617.7" y1="254.2" x2="620.9" y2="254.2" stroke="#000" stroke-width="1.0"/>
<line x1="616.8" y1="262.8" x2="754" y2="262.8" stroke="#000" stroke-width="1.1"/>
<line x1="616.7" y1="161.9" x2="619.3" y2="161.9" stroke="#000" stroke-width="1.0"/>
<text transform="translate(613.9,164.65) scale(1,1.06)" text-anchor="end" font-size="8.3" font-weight="bold" font-style="normal" >25000</text>
<line x1="616.7" y1="179.68" x2="619.3" y2="179.68" stroke="#000" stroke-width="1.0"/>
<text transform="translate(613.9,182.45) scale(1,1.06)" text-anchor="end" font-size="8.3" font-weight="bold" font-style="normal" >20000</text>
<line x1="616.7" y1="197.45" x2="619.3" y2="197.45" stroke="#000" stroke-width="1.0"/>
<text transform="translate(613.9,200.35) scale(1,1.06)" text-anchor="end" font-size="8.3" font-weight="bold" font-style="normal" >15000</text>
<line x1="616.7" y1="215.22" x2="619.3" y2="215.22" stroke="#000" stroke-width="1.0"/>
<text transform="translate(613.9,218.15) scale(1,1.06)" text-anchor="end" font-size="8.3" font-weight="bold" font-style="normal" >10000</text>
<line x1="616.7" y1="233" x2="619.3" y2="233" stroke="#000" stroke-width="1.0"/>
<text transform="translate(613.9,235.95) scale(1,1.06)" text-anchor="end" font-size="8.3" font-weight="bold" font-style="normal" >5000</text>
<line x1="616.7" y1="254.2" x2="619.3" y2="254.2" stroke="#000" stroke-width="1.0"/>
<text transform="translate(613.9,255.95) scale(1,1.06)" text-anchor="end" font-size="8.3" font-weight="bold" font-style="normal" >100</text>
<line x1="616.7" y1="262.8" x2="619.3" y2="262.8" stroke="#000" stroke-width="1.0"/>
<text transform="translate(613.9,264.15) scale(1,1.06)" text-anchor="end" font-size="8.3" font-weight="bold" font-style="normal" >0</text>
<line x1="640.5" y1="262.8" x2="640.5" y2="266" stroke="#000" stroke-width="1.0"/>
<text transform="translate(641.3,276.1) scale(1,1.06)" text-anchor="middle" font-size="8.3" font-weight="bold" font-style="normal" >0</text>
<line x1="686.5" y1="262.8" x2="686.5" y2="266" stroke="#000" stroke-width="1.0"/>
<text transform="translate(686.3,276.1) scale(1,1.06)" text-anchor="middle" font-size="8.3" font-weight="bold" font-style="normal" >6</text>
<line x1="731.5" y1="262.8" x2="731.5" y2="266" stroke="#000" stroke-width="1.0"/>
<text transform="translate(731.7,276.1) scale(1,1.06)" text-anchor="middle" font-size="8.3" font-weight="bold" font-style="normal" >24</text>
<text transform="translate(585,276) scale(1,1.06)" font-size="8.3"><tspan font-style="italic">L. m.</tspan><tspan font-weight="bold"> (hpi):</tspan></text>
<line x1="725" y1="172.5" x2="742.5" y2="172.5" stroke="#222" stroke-width="1.1"/>
<text transform="translate(733,171) scale(1,1.06)" text-anchor="middle" font-size="6.2" font-weight="bold" font-style="normal" style="stroke-width:0.1px">*</text>
<rect x="625.5" y="166.5" width="9" height="4.3" fill="#fff" stroke="#000" stroke-width="1.15"/>
<rect x="624.85" y="175.4" width="10.3" height="5.7" fill="#000" stroke="none" stroke-width="1.0"/>
<text transform="translate(640.3,172.35) scale(1,1.06)" text-anchor="start" font-size="8.3" font-weight="bold" font-style="normal" >WT IRAK4</text>
<text transform="translate(640.3,181.35) scale(1,1.06)" text-anchor="start" font-size="8.3" font-weight="bold" font-style="normal" >IRAK4 KI</text>
<text transform="translate(689.1,155.1) scale(1,1.06)" text-anchor="middle" font-size="12.2" font-weight="bold" font-style="normal" >H</text>
<text transform="translate(585.6,205.5) rotate(-90) scale(1,1.06)" text-anchor="middle" font-size="8.3" font-weight="bold">CCL5 (pg/ml)</text>
</svg>
</body></html>
